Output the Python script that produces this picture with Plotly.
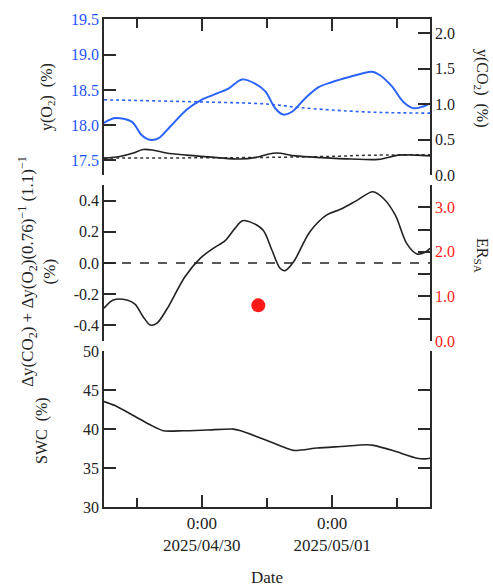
import plotly.graph_objects as go

# ---------------- data ----------------
X_RANGE = ["2025-04-29 06:00", "2025-05-01 18:00"]
MAJOR_TICKS = ["2025-04-30 00:00", "2025-05-01 00:00"]
MAJOR_LABELS = ["0:00<br>2025/04/30", "0:00<br>2025/05/01"]
MINOR_TICKS = ["2025-04-29 12:00", "2025-04-30 12:00", "2025-05-01 12:00"]

O2_TIME = ["2025-04-29 06:00", "2025-04-29 08:00", "2025-04-29 11:06", "2025-04-29 12:54",
           "2025-04-29 14:30", "2025-04-29 16:00", "2025-04-29 18:12", "2025-04-29 21:12",
           "2025-04-29 23:42", "2025-04-30 02:06", "2025-04-30 04:54", "2025-04-30 07:24",
           "2025-04-30 09:48", "2025-04-30 11:42", "2025-04-30 13:30", "2025-04-30 15:00",
           "2025-04-30 16:36", "2025-04-30 19:00", "2025-04-30 21:30", "2025-04-30 23:54",
           "2025-05-01 03:00", "2025-05-01 07:18", "2025-05-01 08:48", "2025-05-01 11:00",
           "2025-05-01 13:06", "2025-05-01 15:00", "2025-05-01 16:30", "2025-05-01 18:00"]
O2 = [18.03, 18.10, 18.05, 17.86, 17.79, 17.81, 17.98, 18.22, 18.35, 18.43, 18.52, 18.65,
      18.59, 18.48, 18.24, 18.15, 18.19, 18.38, 18.54, 18.61, 18.68, 18.76, 18.71, 18.55,
      18.33, 18.24, 18.26, 18.31]

O2_BASE_TIME = ["2025-04-29 06:00", "2025-04-29 23:42", "2025-04-30 12:00", "2025-04-30 18:00",
                "2025-05-01 03:00", "2025-05-01 09:00", "2025-05-01 18:00"]
O2_BASE = [18.36, 18.33, 18.30, 18.25, 18.20, 18.18, 18.17]

CO2_TIME = ["2025-04-29 06:00", "2025-04-29 08:54", "2025-04-29 11:24", "2025-04-29 13:12",
            "2025-04-29 15:06", "2025-04-29 17:30", "2025-04-29 21:12", "2025-04-30 02:48",
            "2025-04-30 07:00", "2025-04-30 10:06", "2025-04-30 12:00", "2025-04-30 13:48",
            "2025-04-30 17:12", "2025-04-30 22:06", "2025-05-01 03:36", "2025-05-01 08:30",
            "2025-05-01 12:12", "2025-05-01 15:18", "2025-05-01 18:00"]
CO2 = [0.235, 0.26, 0.31, 0.36, 0.35, 0.31, 0.28, 0.245, 0.225, 0.25, 0.29, 0.31,
       0.27, 0.245, 0.225, 0.22, 0.28, 0.28, 0.27]

CO2_BASE_TIME = ["2025-04-29 06:00", "2025-04-30 07:00", "2025-04-30 22:00",
                 "2025-05-01 08:00", "2025-05-01 18:00"]
CO2_BASE = [0.24, 0.245, 0.26, 0.28, 0.285]

FLUX_TIME = ["2025-04-29 06:00", "2025-04-29 07:42", "2025-04-29 10:12", "2025-04-29 11:42",
             "2025-04-29 13:12", "2025-04-29 14:30", "2025-04-29 15:42", "2025-04-29 17:30",
             "2025-04-29 20:54", "2025-04-29 23:42", "2025-04-30 02:06", "2025-04-30 04:18",
             "2025-04-30 06:06", "2025-04-30 07:30", "2025-04-30 09:30", "2025-04-30 11:18",
             "2025-04-30 12:54", "2025-04-30 14:24", "2025-04-30 15:18", "2025-04-30 16:54",
             "2025-04-30 19:54", "2025-04-30 23:00", "2025-05-01 01:30", "2025-05-01 04:30",
             "2025-05-01 07:30", "2025-05-01 09:24", "2025-05-01 11:36", "2025-05-01 13:42",
             "2025-05-01 15:36", "2025-05-01 17:06", "2025-05-01 18:00"]
FLUX = [-0.29, -0.237, -0.237, -0.263, -0.344, -0.397, -0.387, -0.30, -0.088, 0.03, 0.094,
        0.143, 0.222, 0.271, 0.254, 0.21, 0.083, -0.034, -0.049, 0.008, 0.20, 0.308, 0.344,
        0.40, 0.457, 0.415, 0.308, 0.126, 0.058, 0.069, 0.094]
FLUX_TICKS = [-0.4, -0.2, 0.0, 0.2, 0.4]
FLUX_TICK_LABELS = ["-0.4", "-0.2", "0.0", "0.2", "0.4"]

ER_TIME = ["2025-04-30 10:24"]
ER = [0.8]

SWC_TIME = ["2025-04-29 06:00", "2025-04-29 08:00", "2025-04-29 11:24", "2025-04-29 14:30",
            "2025-04-29 16:54", "2025-04-29 20:36", "2025-04-30 00:54", "2025-04-30 05:48",
            "2025-04-30 07:00", "2025-04-30 12:00", "2025-04-30 14:24", "2025-04-30 16:54",
            "2025-04-30 21:12", "2025-05-01 01:30", "2025-05-01 06:24", "2025-05-01 07:36",
            "2025-05-01 11:18", "2025-05-01 15:36", "2025-05-01 17:06", "2025-05-01 18:00"]
SWC = [43.52, 43.0, 41.73, 40.54, 39.78, 39.78, 39.87, 39.99, 39.8, 38.53, 37.86, 37.26,
       37.56, 37.76, 37.98, 37.9, 37.2, 36.26, 36.17, 36.26]

# ---------------- style ----------------
FONT = "Liberation Serif, Times New Roman, serif"
FS = 16
BLUE = "#2b63ff"
BLUE_TXT = "#1f55ff"
RED = "#ff1a1a"
AX = "#2a2a2a"

W, H = 493, 586
ML, MR, MT, MB = 104, 63, 19, 79
PW = W - ML - MR
PH = H - MT - MB


def px(xp):
    return (xp - ML) / PW


def py(yp):
    return (H - MB - yp) / PH


fig = go.Figure()

# top panel
fig.add_trace(go.Scatter(x=O2_BASE_TIME, y=O2_BASE, xaxis="x3", yaxis="y3", mode="lines",
                         line=dict(color=BLUE, width=1.6, dash="dot", shape="spline"),
                         showlegend=False))
fig.add_trace(go.Scatter(x=O2_TIME, y=O2, xaxis="x3", yaxis="y3", mode="lines",
                         line=dict(color=BLUE, width=2, shape="spline", smoothing=0.9),
                         showlegend=False))
fig.add_trace(go.Scatter(x=CO2_BASE_TIME, y=CO2_BASE, xaxis="x3", yaxis="y5", mode="lines",
                         line=dict(color="#333", width=1.5, dash="dot", shape="spline"),
                         showlegend=False))
fig.add_trace(go.Scatter(x=CO2_TIME, y=CO2, xaxis="x3", yaxis="y5", mode="lines",
                         line=dict(color="#222", width=1.6, shape="spline", smoothing=0.9),
                         showlegend=False))

# middle panel
fig.add_trace(go.Scatter(x=FLUX_TIME, y=FLUX, xaxis="x2", yaxis="y2", mode="lines",
                         line=dict(color="#222", width=1.6, shape="spline", smoothing=0.9),
                         showlegend=False))
fig.add_trace(go.Scatter(x=ER_TIME, y=ER, xaxis="x2", yaxis="y4", mode="markers",
                         marker=dict(color=RED, size=14), showlegend=False))

# bottom panel
fig.add_trace(go.Scatter(x=SWC_TIME, y=SWC, xaxis="x", yaxis="y", mode="lines",
                         line=dict(color="#222", width=1.6, shape="spline", smoothing=0.7),
                         showlegend=False))

fig.add_shape(type="line", xref="x2 domain", yref="y2", x0=0, x1=1, y0=0, y1=0,
              line=dict(color="#222", width=1.5, dash="dash"))

tickfont = dict(family=FONT, size=FS, color="#222")
xtickfont = dict(family=FONT, size=17, color="#222")
minor_x = dict(tickmode="array", tickvals=MINOR_TICKS, ticks="inside", ticklen=9,
               tickcolor=AX, tickwidth=1.5)

base_x = dict(type="date", range=X_RANGE, tickmode="array", tickvals=MAJOR_TICKS,
              showgrid=False, zeroline=False, linecolor=AX, linewidth=1.5,
              tickcolor=AX, tickwidth=1.5, ticklen=12, ticks="inside", tickfont=xtickfont)

fig.update_layout(
    width=W, height=H,
    margin=dict(l=ML, r=MR, t=MT, b=MB),
    paper_bgcolor="white", plot_bgcolor="white",
    font=dict(family=FONT, size=FS, color="#222"),
    xaxis=dict(base_x, domain=[0, 1], anchor="y", showline=True, ticktext=MAJOR_LABELS,
               minor=minor_x),
    xaxis2=dict(base_x, domain=[0, 1], anchor="y2", showline=False, ticks="",
                showticklabels=False, matches="x"),
    xaxis3=dict(base_x, domain=[0, 1], anchor="y3", side="top", showline=True,
                showticklabels=False, minor=minor_x, matches="x"),
    yaxis=dict(domain=[0, py(351)], range=[30, 50], dtick=5, tick0=30, ticks="inside",
               ticklen=12, tickwidth=1.5, tickcolor=AX, showline=True, linecolor=AX,
               linewidth=1.5, mirror="ticks", showgrid=False, zeroline=False,
               tickfont=tickfont, anchor="x"),
    yaxis2=dict(domain=[py(341), py(185)], range=[-0.5, 0.5], tickmode="array",
                tickvals=FLUX_TICKS, ticktext=FLUX_TICK_LABELS, ticks="inside", ticklen=12,
                tickwidth=1.5, tickcolor=AX, showline=True, linecolor=AX, linewidth=1.5,
                showgrid=False, zeroline=False, tickfont=tickfont, anchor="x2"),
    yaxis4=dict(overlaying="y2", side="right", anchor="x2", range=[0, 3.5], dtick=1,
                tick0=0, tickformat=".1f", ticks="inside", ticklen=12, tickwidth=1.5,
                tickcolor=AX, showline=True, linecolor=AX, linewidth=1.5, showgrid=False,
                zeroline=False, tickfont=dict(family=FONT, size=FS, color=RED),
                minor=dict(dtick=0.5, tick0=0, ticks="inside", ticklen=12, tickwidth=1.5,
                           tickcolor=AX)),
    yaxis3=dict(domain=[py(175), 1], range=[17.29, 19.51], dtick=0.5, tick0=17.5,
                tickformat=".1f", ticks="inside", ticklen=12, tickwidth=1.5, tickcolor=AX,
                showline=True, linecolor=AX, linewidth=1.5, showgrid=False, zeroline=False,
                tickfont=dict(family=FONT, size=FS, color=BLUE_TXT), anchor="x3"),
    yaxis5=dict(overlaying="y3", side="right", anchor="x3", range=[0, 2.2], dtick=0.5,
                tick0=0, tickformat=".1f", ticks="inside", ticklen=12, tickwidth=1.5,
                tickcolor=AX, showline=True, linecolor=AX, linewidth=1.5, showgrid=False,
                zeroline=False, tickfont=tickfont),
)

annotations = [
    dict(text="y(O<sub>2</sub>)  (%)", x=px(47), y=py(97), textangle=-90, size=16),
    dict(text="Δy(CO<sub>2</sub>) + Δy(O<sub>2</sub>)(0.76)<sup>−1</sup> (1.1)<sup>−1</sup>"
              "<br>(%)", x=px(37), y=py(272), textangle=-90, size=17),
    dict(text="SWC  (%)", x=px(42), y=py(430), textangle=-90, size=16),
    dict(text="y(CO<sub>2</sub>)  (%)", x=px(482), y=py(88), textangle=90, size=16),
    dict(text="ER<sub>SA</sub>", x=px(482), y=py(255), textangle=90, size=16),
    dict(text="Date", x=px(267), y=py(577), textangle=0, size=17),
]
for a in annotations:
    size = a.pop("size")
    fig.add_annotation(xref="paper", yref="paper", showarrow=False,
                       font=dict(family=FONT, size=size, color="#222"),
                       xanchor="center", yanchor="middle", **a)

fig.write_html("out.html")
